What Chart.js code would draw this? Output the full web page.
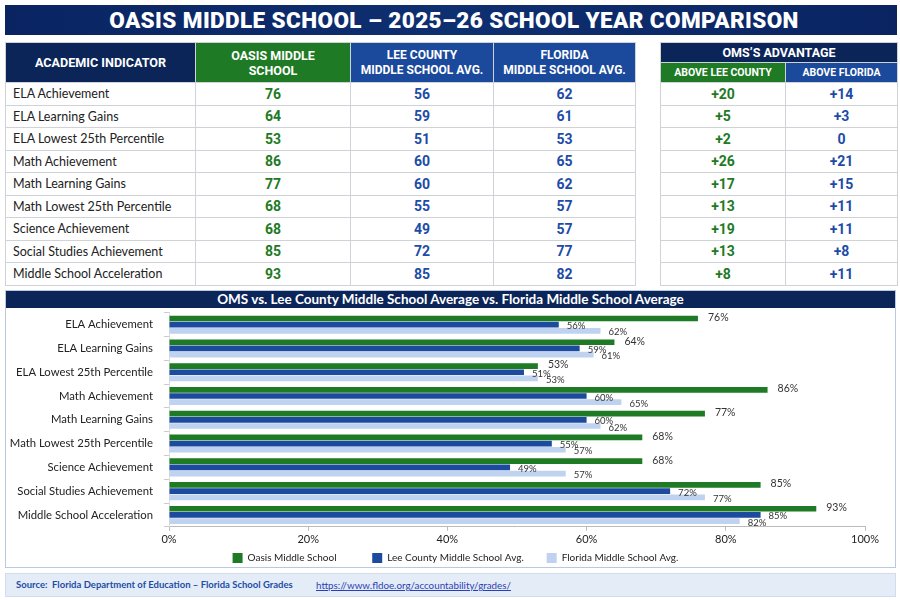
<!DOCTYPE html>
<html><head><meta charset="utf-8">
<script src="https://cdn.jsdelivr.net/npm/chart.js@4.4.1/dist/chart.umd.min.js"></script>
<style>
html,body{margin:0;padding:0;background:#fff;width:900px;height:600px;overflow:hidden;font-family:Lato,"Open Sans",sans-serif;}
#title{position:absolute;left:5px;top:5px;width:892px;height:30px;background:linear-gradient(90deg,#0a2462,#0e2f70 50%,#0a2462);color:#fff;font-family:Roboto,sans-serif;font-weight:900;font-size:22.5px;line-height:30px;text-align:center;letter-spacing:0.4px;padding-left:6px;box-sizing:border-box;}
table{border-collapse:collapse;position:absolute;table-layout:fixed;}
td,th{border:1px solid #cfd3d8;padding:0;}
th{color:#fff;font-family:Roboto,sans-serif;font-weight:700;font-size:12px;line-height:15px;text-align:center;}
td{height:21.5px;font-size:12.5px;}
td.lbl{padding-left:7px;color:#222;}
td.g{color:#1e7a24;font-weight:700;text-align:center;font-size:14px;font-family:Roboto,sans-serif;}
td.b{color:#1d4ca6;font-weight:700;text-align:center;font-size:14px;font-family:Roboto,sans-serif;}
.navy{background:#0b2559;}
.grn{background:#1f7a25;}
.blu{background:#1b4a9c;}
#panel{position:absolute;left:5px;top:290px;width:889px;height:276px;border:1px solid #b9c9e2;}
#phead{position:absolute;left:0;top:0;width:889px;height:17px;background:#0b2559;color:#fff;font-weight:700;font-size:13.5px;line-height:17px;text-align:center;font-family:Lato,sans-serif;}
#cwrap{position:absolute;left:0;top:4px;width:889px;height:278px;}
#footer{position:absolute;left:5px;top:573px;width:889px;height:22px;background:#e4ecf7;border:1px solid #d2dced;font-size:9.5px;line-height:22px;color:#1d4ca6;font-weight:700;}
#footer .src{position:absolute;left:10px;}
#footer a{position:absolute;left:310px;color:#2b3fb5;text-decoration:underline;font-weight:400;font-size:9.8px;}
</style></head>
<body>
<div id="title">OASIS MIDDLE SCHOOL – 2025–26 SCHOOL YEAR COMPARISON</div>
<table id="t1" style="left:5px;top:42px;width:630px;">
<colgroup><col style="width:190px"><col style="width:155px"><col style="width:143px"><col style="width:142px"></colgroup>
<thead><tr style="height:40px"><th class="navy" style="font-size:12.6px">ACADEMIC INDICATOR</th><th class="grn" style="font-size:12.5px">OASIS MIDDLE<br>SCHOOL</th><th class="blu">LEE COUNTY<br>MIDDLE SCHOOL AVG.</th><th class="blu">FLORIDA<br>MIDDLE SCHOOL AVG.</th></tr></thead>
<tbody id="b1"></tbody></table>
<table id="t2" style="left:660px;top:42px;width:237px;">
<colgroup><col style="width:125px"><col style="width:112px"></colgroup>
<thead><tr style="height:20px"><th class="navy" colspan="2" style="font-size:12.5px">OMS’S ADVANTAGE</th></tr>
<tr style="height:20px"><th class="grn" style="font-size:10.5px">ABOVE LEE COUNTY</th><th class="blu" style="font-size:10.5px">ABOVE FLORIDA</th></tr></thead>
<tbody id="b2"></tbody></table>
<div id="panel">
<div id="cwrap"><canvas id="c"></canvas></div>
<div id="phead">OMS vs. Lee County Middle School Average vs. Florida Middle School Average</div></div>
<div id="footer"><span class="src">Source:&nbsp; Florida Department of Education – Florida School Grades</span><a>https://www.fldoe.org/accountability/grades/</a></div>
<script>
const categories = ["ELA Achievement","ELA Learning Gains","ELA Lowest 25th Percentile","Math Achievement","Math Learning Gains","Math Lowest 25th Percentile","Science Achievement","Social Studies Achievement","Middle School Acceleration"];
const oasis = [76,64,53,86,77,68,68,85,93];
const leeCounty = [56,59,51,60,60,55,49,72,85];
const florida = [62,61,53,65,62,57,57,77,82];
const aboveLee = ["+20","+5","+2","+26","+17","+13","+19","+13","+8"];
const aboveFlorida = ["+14","+3","0","+21","+15","+11","+11","+8","+11"];
const seriesNames = ["Oasis Middle School","Lee County Middle School Avg.","Florida Middle School Avg."];
const xTicks = [0,20,40,60,80,100];

let h1="",h2="";
categories.forEach((c,i)=>{
  h1+=`<tr><td class="lbl">${c}</td><td class="g">${oasis[i]}</td><td class="b">${leeCounty[i]}</td><td class="b">${florida[i]}</td></tr>`;
  h2+=`<tr><td class="g">${aboveLee[i]}</td><td class="b">${aboveFlorida[i]}</td></tr>`;
});
document.getElementById('b1').innerHTML=h1;
document.getElementById('b2').innerHTML=h2;

const labelPlugin={id:'vals',
  afterLayout(chart){ if(chart.legend){chart.legend.left+=20;chart.legend.right+=20;} },
  afterDatasetsDraw(chart){
  const ctx=chart.ctx;ctx.save();
  chart.data.datasets.forEach((ds,di)=>{
    const meta=chart.getDatasetMeta(di);
    meta.data.forEach((el,i)=>{
      ctx.font=(di===0?'10.5px':'9.5px')+' Lato, sans-serif';
      ctx.fillStyle='#333';ctx.textBaseline='middle';ctx.textAlign='left';
      ctx.fillText(ds.data[i]+'%',el.x+(di===0?10:8),el.y+(di===0?-1:1.5));
    });
  });
  ctx.restore();}};

const legendGaps = [12,7,0];
new Chart(document.getElementById('c'),{
  type:'bar',
  data:{labels:categories,datasets:[
    {label:seriesNames[0],data:oasis,backgroundColor:'#1f7a25'},
    {label:seriesNames[1],data:leeCounty,backgroundColor:'#1b4a9e'},
    {label:seriesNames[2],data:florida,backgroundColor:'#bfd2f0'}]},
  options:{indexAxis:'y',responsive:true,maintainAspectRatio:false,animation:false,
    categoryPercentage:0.78,barPercentage:0.92,
    layout:{padding:{left:0,right:30,top:0,bottom:0}},
    plugins:{legend:{position:'bottom',labels:{boxWidth:10,boxHeight:10,padding:5,color:'#222',font:{family:'Lato',size:10},
      generateLabels(chart){return chart.data.datasets.map((d,i)=>({text:d.label+' '.repeat(legendGaps[i]),fillStyle:d.backgroundColor,strokeStyle:d.backgroundColor,lineWidth:0,datasetIndex:i,fontColor:'#222'}));}}},
      tooltip:{enabled:false}},
    scales:{
      x:{min:0,max:100,afterBuildTicks(s){s.ticks=xTicks.map(v=>({value:v}));},
        ticks:{callback:v=>v+'%',color:'#222',font:{family:'Lato',size:11},padding:2},
        grid:{drawOnChartArea:false,tickLength:4,color:'#bbb'},border:{color:'#bbb'}},
      y:{afterFit(s){s.width=163;},
        ticks:{color:'#222',font:{family:'Lato',size:11.3},padding:11},
        grid:{offset:true,drawOnChartArea:false,tickLength:5,color:'#ccc'},border:{color:'#ddd'}}
    }},
  plugins:[labelPlugin]
});
</script>
</body></html>
